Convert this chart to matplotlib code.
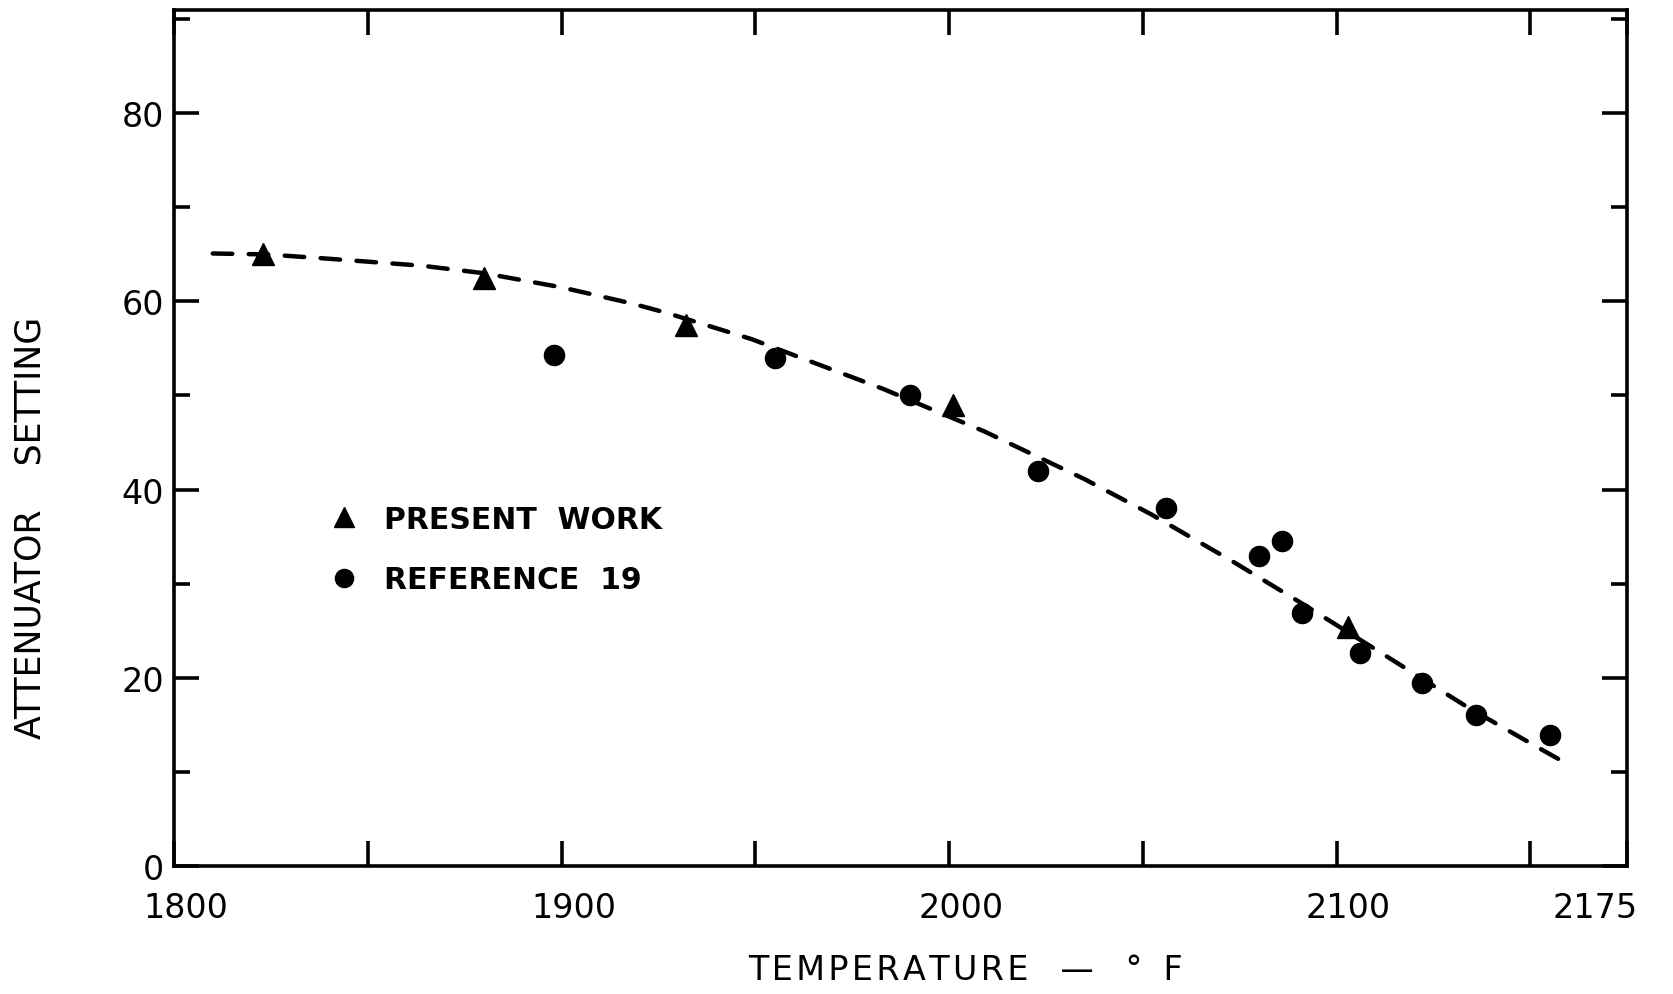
import matplotlib
matplotlib.use("Agg")
import matplotlib.pyplot as plt
from matplotlib.ticker import MultipleLocator
from matplotlib.transforms import ScaledTranslation

plt.rcParams['font.family'] = ['DejaVu Sans']

# present work (triangles)
present_temp = [1823, 1880, 1932, 2001, 2103]
present_att = [65.0, 62.5, 57.5, 49.0, 25.4]

# reference 19 (circles)
ref_temp = [1898, 1955, 1990, 2023, 2056, 2080, 2086, 2091, 2106, 2122, 2136, 2155]
ref_att = [54.3, 54.0, 50.0, 42.0, 38.0, 32.9, 34.5, 26.9, 22.6, 19.4, 16.0, 13.9]

# faired curve through the data
curve_temp = [1810, 1824, 1838, 1864, 1880, 1900, 1918, 1927, 1949, 1983, 2009,
              2035, 2052, 2073, 2091, 2112, 2134, 2151, 2160]
curve_att = [65.1, 65.0, 64.6, 63.8, 63.0, 61.5, 59.8, 58.8, 56.0, 50.7, 46.2,
             41.1, 37.4, 32.4, 27.9, 22.5, 16.8, 12.8, 10.7]

xtick_pos = [1800, 1850, 1900, 1950, 2000, 2050, 2100, 2150, 2175]
xtick_lbl = ['1800', '', '1900', '', '2000', '', '2100', '', '2175']

fig = plt.figure(figsize=(16.73, 9.95), dpi=100)
ax = fig.add_axes([0.104, 0.129, 0.8686, 0.860])

ax.plot(curve_temp, curve_att, color='black', lw=3.2, dashes=(4.4, 3.7),
        dash_capstyle='round')
ax.plot(present_temp, present_att, linestyle='none', marker='^', ms=16,
        color='black', label='PRESENT  WORK')
ax.plot(ref_temp, ref_att, linestyle='none', marker='o', ms=14.5,
        color='black', label='REFERENCE  19')

ax.set_xlim(1800, 2175)
ax.set_ylim(0, 91)
ax.set_xticks(xtick_pos)
ax.set_xticklabels(xtick_lbl)
ax.set_yticks([0, 20, 40, 60, 80])
ax.yaxis.set_minor_locator(MultipleLocator(10))

for s in ax.spines.values():
    s.set_linewidth(2.6)

ax.tick_params(axis='both', which='both', direction='in', width=2.6,
               top=True, right=True, labelsize=24)
ax.tick_params(axis='both', which='major', length=18)
ax.tick_params(axis='y', which='minor', length=11.5)
ax.tick_params(axis='x', pad=18)
ax.tick_params(axis='y', pad=7)

# nudge the temperature labels the way they were lettered
shift = ScaledTranslation(12 / 100, 0, fig.dpi_scale_trans)
for lbl in ax.get_xticklabels():
    lbl.set_transform(lbl.get_transform() + shift)
end_lbl = ax.get_xticklabels()[-1]
end_lbl.set_transform(end_lbl.get_transform() +
                      ScaledTranslation(-44 / 100, 0, fig.dpi_scale_trans))

hs = '\u200a'
ax.text(0.545, -0.121, hs.join('TEMPERATURE') + '   —   °  F',
        transform=ax.transAxes, ha='center', va='center', fontsize=24)
ax.text(-0.099, 0.396, 'ATTENUATOR    SETTING', transform=ax.transAxes,
        ha='center', va='center', rotation=90, fontsize=25)

leg = ax.legend(loc='upper left', bbox_to_anchor=(0.088, 0.453), frameon=False,
                fontsize=21.5, handletextpad=0.85, labelspacing=1.05,
                markerscale=0.9, handlelength=1.0)
for t in leg.get_texts():
    t.set_fontweight('bold')

fig.savefig('out.png', dpi=100)
